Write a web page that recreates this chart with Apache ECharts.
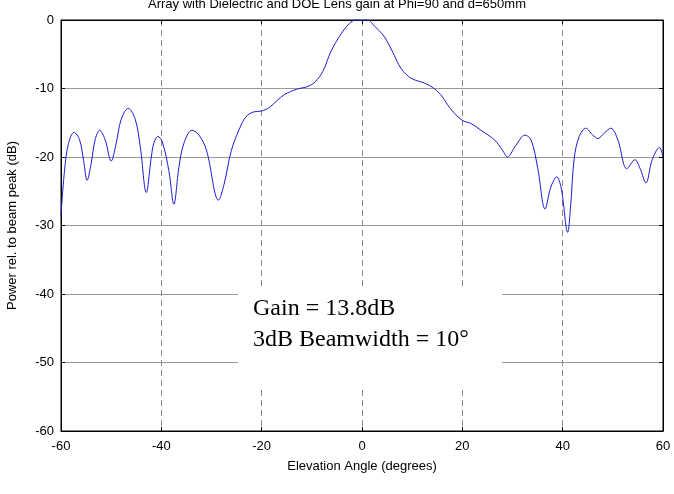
<!DOCTYPE html>
<html>
<head>
<meta charset="utf-8">
<script src="https://cdn.jsdelivr.net/npm/echarts@6/dist/echarts.min.js"></script>
<style>
  html, body { margin: 0; padding: 0; background: #fff; }
  #main { width: 674px; height: 494px; }
</style>
</head>
<body>
<div id="main"></div>
<script>
// elevation angle (deg) and power relative to beam peak (dB)
var angles = [
  -60, -59.3, -58.5, -57.4, -56.3, -55.5, -54.8, -54.0, -53.2, -52.3,
  -51.2, -50.0, -49.0, -48.0, -46.6, -45.2, -44.2, -43.0, -42.0, -41.5,
  -40.7, -39.8, -38.5, -37.5, -36.5, -35.5, -33.9, -32.5, -31.0, -28.6,
  -27.5, -26.1, -24.5, -23.1, -21.5, -20.1, -18.5, -17.0, -15.5, -13.0,
  -10.8, -9.3, -7.8, -6.2, -4.5, -2.5, -1.2, 0, 1.1, 2.5,
  4.4, 6.0, 7.8, 9.8, 12.4, 14.0, 15.7, 17.0, 18.4, 20.1,
  21.7, 23.7, 26.4, 28.0, 29.0, 30.5, 32.5, 33.7, 35.0, 36.5,
  37.6, 38.8, 39.7, 41.0, 41.6, 42.3, 43.3, 44.6, 46.0, 47.0,
  48.3, 49.6, 51.0, 52.8, 54.4, 55.5, 56.6, 57.8, 59.3, 60
];
var gains = [
  -28.5, -22, -18, -16.4, -17.5, -20.5, -23.4, -21, -17.5, -16.1,
  -17.5, -20.6, -18, -14.5, -12.9, -14.5, -18.5, -25.2, -20, -18,
  -17.0, -17.8, -22, -26.9, -21.5, -18, -16.1, -16.8, -19, -26.3,
  -24, -19.2, -16, -14.1, -13.4, -13.3, -12.8, -11.8, -10.9, -10.1,
  -9.7, -9.0, -7.5, -4.6, -2.4, -0.5, 0, 0, 0, -0.9,
  -2.4, -4.5, -7.1, -8.5, -9.2, -9.8, -10.9, -12.3, -13.6, -14.7,
  -15.1, -16.1, -17.5, -19, -20.0, -18.5, -16.8, -17.5, -21.5, -27.6,
  -24.5, -22.9, -24.5, -31.0, -27, -20.2, -17, -15.8, -16.8, -17.3,
  -16.5, -15.8, -17.5, -21.7, -20.4, -21.8, -23.8, -20.5, -18.6, -20.0
];
var xTicks = [-60, 60, 20];
var yTicks = [-60, 0, 10];
var titleText = "Array with Dielectric and DOE Lens gain at Phi=90 and d=650mm";
var noteLines = ["Gain = 13.8dB", "3dB Beamwidth = 10\u00b0"];

var points = angles.map(function (a, i) { return [a, gains[i]]; });

var chart = echarts.init(document.getElementById("main"));
var font = "Liberation Sans";
var tickStyle = { color: "#000", fontFamily: font, fontSize: 13 };

// mirrored axis (top / right) - ticks only
function mirror(pos, t) {
  return {
    type: "value", min: t[0], max: t[1], interval: t[2], position: pos,
    axisLine: { show: true, onZero: false, lineStyle: { color: "#000" } },
    axisTick: { show: true, inside: true, length: 4, lineStyle: { color: "#000" } },
    axisLabel: { show: false },
    splitLine: { show: false }
  };
}

var option = {
  animation: false,
  title: {
    text: titleText,
    left: "center",
    top: -7,
    textStyle: { color: "#000", fontFamily: font, fontSize: 13, fontWeight: "normal" }
  },
  grid: {
    left: 61, right: 11, top: 20, bottom: 63,
    outerBoundsMode: "none",
    containLabel: false,
    show: true, borderColor: "#000", borderWidth: 1, backgroundColor: "#fff"
  },
  xAxis: [
    {
      type: "value", min: xTicks[0], max: xTicks[1], interval: xTicks[2],
      position: "bottom",
      name: "Elevation Angle (degrees)", nameLocation: "middle", nameGap: 29,
      nameTextStyle: { color: "#000", fontFamily: font, fontSize: 13 },
      axisLine: { show: true, onZero: false, lineStyle: { color: "#000", width: 1 } },
      axisTick: { show: true, inside: true, length: 4, lineStyle: { color: "#000" } },
      axisLabel: Object.assign({ margin: 9 }, tickStyle),
      splitLine: { show: true, lineStyle: { color: "#888", type: [6, 4], width: 1 } }
    },
    mirror("top", xTicks)
  ],
  yAxis: [
    {
      type: "value", min: yTicks[0], max: yTicks[1], interval: yTicks[2],
      position: "left",
      name: "Power rel. to beam peak (dB)", nameLocation: "middle", nameGap: 42,
      nameRotate: 90,
      nameTextStyle: { color: "#000", fontFamily: font, fontSize: 13 },
      axisLine: { show: true, onZero: false, lineStyle: { color: "#000", width: 1 } },
      axisTick: { show: true, inside: true, length: 4, lineStyle: { color: "#000" } },
      axisLabel: Object.assign({ margin: 7 }, tickStyle),
      splitLine: { show: true, lineStyle: { color: "#999", width: 1 } }
    },
    mirror("right", yTicks)
  ],
  series: [
    {
      type: "line",
      data: points,
      smooth: 0.35,
      showSymbol: false,
      lineStyle: { color: "#1a1ad0", width: 1 },
      z: 3
    }
  ],
  graphic: [
    {
      type: "rect", z: 100,
      shape: { x: 238, y: 287, width: 264, height: 99 },
      style: { fill: "#fff" }
    },
    {
      type: "text", z: 101, left: 253, top: 297,
      style: { text: noteLines[0], fill: "#000", font: "24px 'Liberation Serif'" }
    },
    {
      type: "text", z: 101, left: 253, top: 328,
      style: { text: noteLines[1], fill: "#000", font: "24px 'Liberation Serif'" }
    }
  ]
};
chart.setOption(option);
</script>
</body>
</html>
